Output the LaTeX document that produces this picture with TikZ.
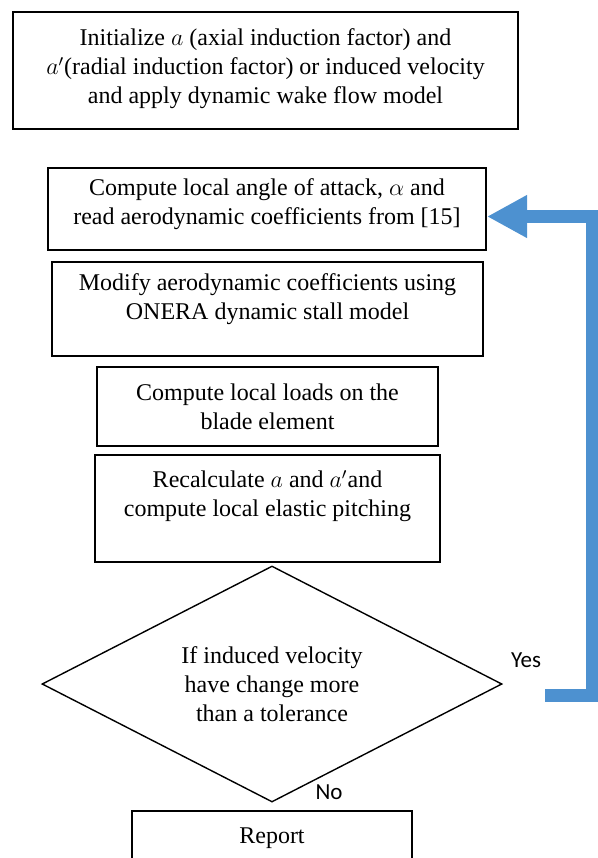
\documentclass[tikz,border=0pt]{standalone}
\usepackage{fontspec}
\setmainfont{Liberation Serif}
\newfontfamily\boxfont{Liberation Serif}
\newfontfamily\lblfont{Carlito}
\usetikzlibrary{shapes.geometric,arrows.meta}
\definecolor{loopblue}{RGB}{77,145,208}
\begin{document}
\begin{tikzpicture}[x=0.5pt,y=-0.5pt,
  box/.style={draw=black,line width=0.9pt,rectangle,inner sep=0pt},
  txt/.style={align=center,font=\boxfont\fontsize{12pt}{14.5pt}\selectfont,inner sep=0pt},
  lbl/.style={font=\lblfont\fontsize{11.5pt}{12pt}\selectfont,inner sep=0pt},
  decision/.style={draw=black,line width=0.7pt,diamond,inner sep=0pt}]
\useasboundingbox (0,0) rectangle (598,858);
% boxes
\node[box,minimum width=252.5pt,minimum height=58.5pt] (b1) at (265.5,70.5) {};
\node[txt] (t1) at (265.5,69) {Initialize $a$ (axial induction factor) and\\$a'$(radial induction factor) or induced velocity\\and apply dynamic wake flow model};
\node[box,minimum width=219pt,minimum height=41pt] (b2) at (267,209) {};
\node[txt] (t2) at (267,204) {Compute local angle of attack, $\alpha$ and\\read aerodynamic coefficients from [15]};
\node[box,minimum width=215.5pt,minimum height=47pt] (b3) at (267.5,309) {};
\node[txt] (t3) at (267.5,299) {Modify aerodynamic coefficients using\\ONERA dynamic stall model};
\node[box,minimum width=170.5pt,minimum height=39.5pt] (b4) at (267.5,406.5) {};
\node[txt] (t4) at (267.5,407) {Compute local loads on the\\blade element};
\node[box,minimum width=172.5pt,minimum height=53.5pt] (b5) at (267.5,508.5) {};
\node[txt] (t5) at (267.5,496) {Recalculate $a$ and $a'$and\\compute local elastic pitching};
\node[decision,minimum width=230pt,minimum height=118pt] (d) at (272,684) {};
\node[txt] (td) at (272,684) {If induced velocity\\have change more\\than a tolerance};
\node[box,minimum width=140pt,minimum height=29.5pt] (rep) at (272,840.5) {};
\node[txt] (tr) at (272,838) {Report};
% labels
\node[lbl] (yes) at (526,660) {Yes};
\node[lbl] (no) at (329,792) {No};
% loop-back arrow
\coordinate (ys) at (545,695.5);
\coordinate (tip) at (487,216.5);
\draw[loopblue,line width=6.5pt,line join=miter,
  -{Triangle[length=20pt,width=20pt]}]
  (ys) -- (592.5,695.5) -- (592.5,216.5) -- (tip);
\end{tikzpicture}
\end{document}
